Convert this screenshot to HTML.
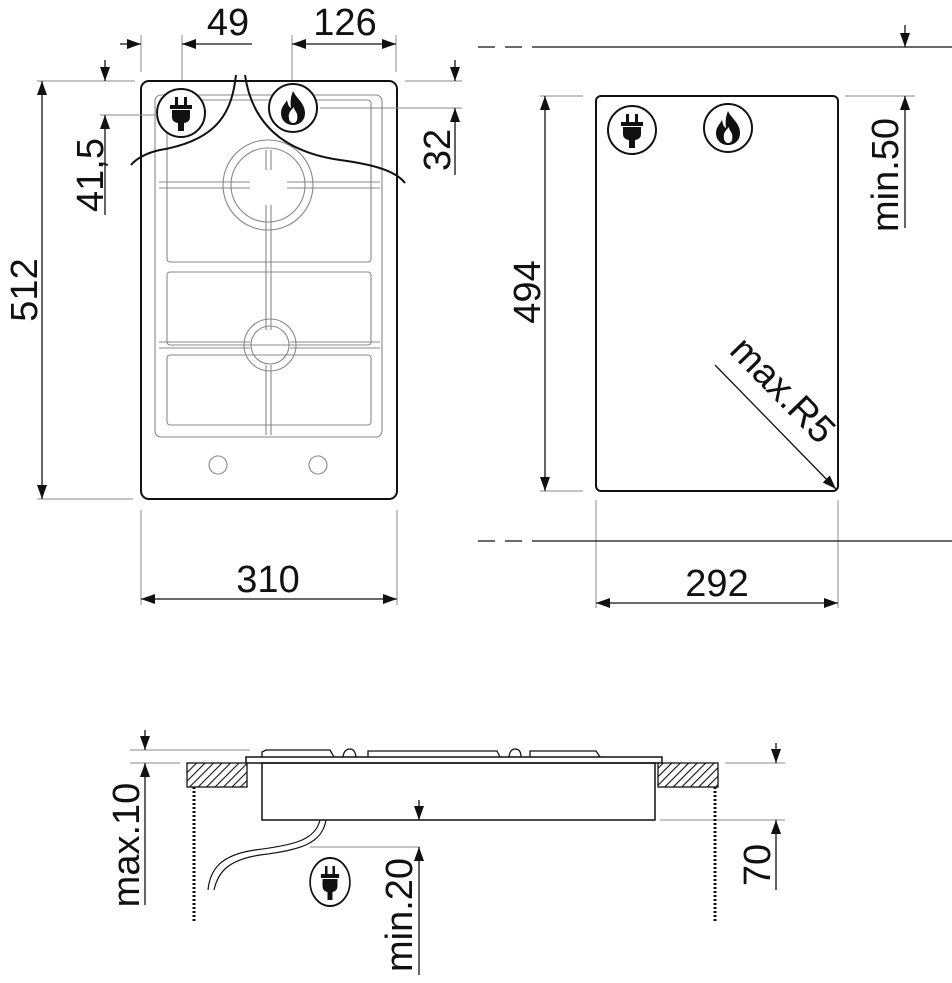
<!DOCTYPE html>
<html><head><style>html,body{margin:0;padding:0;background:#fff}svg{display:block}text{font-family:"Liberation Sans",sans-serif;fill:#111}</style></head>
<body>
<svg width="952" height="983" viewBox="0 0 952 983" xmlns="http://www.w3.org/2000/svg">
<defs>
<marker id="a" viewBox="0 0 14 10" refX="14" refY="5" markerWidth="14" markerHeight="10" orient="auto-start-reverse" markerUnits="userSpaceOnUse"><path d="M0,0L14,5L0,10z" fill="#111"/></marker>
<pattern id="h" width="6" height="6" patternUnits="userSpaceOnUse" patternTransform="rotate(45)"><rect width="6" height="6" fill="#fff"/><line x1="0" y1="0" x2="0" y2="6" stroke="#111" stroke-width="2.2"/></pattern>
<g id="plug"><circle r="24" fill="#fff" stroke="#111" stroke-width="2"/><rect x="-6" y="-16" width="3" height="9" fill="#111"/><rect x="3" y="-16" width="3" height="9" fill="#111"/><rect x="-11" y="-8" width="22" height="4" fill="#111"/><path d="M-9,-3H9V4Q9,9 3,10V18H-3V10Q-9,9 -9,4Z" fill="#111"/></g>
<g id="flame"><circle r="24" fill="#fff" stroke="#111" stroke-width="2"/><path d="M0,-17C3,-10 12,-5 12,5C12,13 6,17 0,17C-7,17 -12,12 -12,5C-12,-1 -8,-4 -6,-8C-5,-3 -4,-1 -2,0C-3,-7 -2,-12 0,-17ZM0,15C4,15 5,11 4,6C3,3 1,2 1,-1C-3,3 -5,6 -4,10C-4,13 -2,15 0,15Z" fill="#111" fill-rule="evenodd"/></g>
</defs>
<g fill="none" stroke="#111" stroke-width="1.2">
<rect x="141" y="81" width="256" height="418" rx="8" stroke-width="2"/>
<g stroke="#888" stroke-width="1.1">
<rect x="155" y="95" width="227" height="342" rx="6"/>
<rect x="167" y="100" width="204" height="162" rx="3"/>
<rect x="167" y="272" width="204" height="73" rx="3"/>
<rect x="167" y="355" width="204" height="70" rx="3"/>
<circle cx="268" cy="185" r="45"/><circle cx="268" cy="185" r="37"/>
<circle cx="270" cy="345" r="26"/><circle cx="270" cy="345" r="19"/>
<path d="M159,182H250M159,188H250M287,182H380M287,188H380M159,342H250M159,348H250M290,342H380M290,348H380"/>
<path d="M266,150V170M271,150V170M266,205V330M271,205V330M266,365V435M271,365V435"/>
<circle cx="218" cy="465" r="9"/><circle cx="318" cy="465" r="9"/>
</g>
<path d="M236,75C232,110 220,140 160,150C145,153 135,160 131,165" stroke-width="2"/>
<path d="M245,75C250,110 270,150 340,160C370,164 395,170 405,183" stroke-width="2"/>
</g>
<use href="#plug" x="181" y="113"/>
<use href="#flame" x="293" y="108"/>
<g fill="none" stroke="#888" stroke-width="1">
<path d="M141,35V72M182,35V80M292,35V80M396,35V72M100,81H135M100,115H157M405,81H462M320,108H462M37,81H133M37,499H133M141,510V605M397,510V605"/>
<path d="M540,96H583M540,491H583M596,500V608M838,500V608M845,96H915"/>
<path d="M130,750H250M130,763H180M725,763H785M660,820H785M310,847H420"/>
</g>
<g fill="none" stroke="#111" stroke-width="1.3">
<line x1="42" y1="81" x2="42" y2="499" marker-start="url(#a)" marker-end="url(#a)"/>
<line x1="141" y1="599" x2="397" y2="599" marker-start="url(#a)" marker-end="url(#a)"/>
<line x1="120" y1="44" x2="141" y2="44" marker-end="url(#a)"/>
<line x1="252" y1="44" x2="182" y2="44" marker-end="url(#a)"/>
<line x1="292" y1="44" x2="396" y2="44" marker-start="url(#a)" marker-end="url(#a)"/>
<line x1="105" y1="60" x2="105" y2="81" marker-end="url(#a)"/>
<line x1="105" y1="215" x2="105" y2="115" marker-end="url(#a)"/>
<line x1="455" y1="60" x2="455" y2="81" marker-end="url(#a)"/>
<line x1="455" y1="175" x2="455" y2="108" marker-end="url(#a)"/>
<rect x="596" y="96" width="242" height="395" rx="5" stroke-width="2"/>
<line x1="545" y1="96" x2="545" y2="491" marker-start="url(#a)" marker-end="url(#a)"/>
<line x1="596" y1="603" x2="838" y2="603" marker-start="url(#a)" marker-end="url(#a)"/>
<line x1="905" y1="25" x2="905" y2="47" marker-end="url(#a)"/>
<line x1="905" y1="228" x2="905" y2="96" marker-end="url(#a)"/>
<path d="M478,47H495M505,47H522M532,47H952M478,541H495M505,541H522M532,541H952"/>
<line x1="715" y1="365" x2="836" y2="489" marker-end="url(#a)"/>
<rect x="246" y="757" width="416" height="6" stroke-width="1.5"/>
<rect x="262" y="763" width="393" height="57" stroke-width="1.5"/>
<path d="M262,757V752L266,750H330L334,757M343,757Q344,749 350,749Q355,749 356,757M368,757V751H497L500,757M509,757Q510,749 515,749Q521,749 521,757M530,757V751H596L600,757"/>
<path d="M320,820C315,840 295,845 255,850C220,855 210,870 208,890M326,820C322,844 300,850 260,855C228,860 218,872 214,890" stroke-width="1.2"/>
<line x1="145" y1="730" x2="145" y2="750" marker-end="url(#a)"/>
<line x1="145" y1="905" x2="145" y2="763" marker-end="url(#a)"/>
<line x1="419" y1="800" x2="419" y2="820" marker-end="url(#a)"/>
<line x1="419" y1="975" x2="419" y2="847" marker-end="url(#a)"/>
<line x1="776" y1="743" x2="776" y2="763" marker-end="url(#a)"/>
<line x1="776" y1="890" x2="776" y2="820" marker-end="url(#a)"/>
<path d="M194,787V922M715,787V922" stroke-width="3" stroke-dasharray="2 2"/>
</g>
<rect x="187" y="763" width="60" height="24" fill="url(#h)" stroke="#111" stroke-width="1.3"/>
<rect x="658" y="763" width="60" height="24" fill="url(#h)" stroke="#111" stroke-width="1.3"/>
<use href="#plug" x="632" y="130"/>
<use href="#flame" x="728" y="128"/>
<g transform="translate(330,882) scale(0.83,1)"><use href="#plug"/></g>
<g font-size="38">
<text x="228" y="35" text-anchor="middle">49</text>
<text x="345" y="35" text-anchor="middle">126</text>
<text x="268" y="592" text-anchor="middle">310</text>
<text x="717" y="596" text-anchor="middle">292</text>
<text transform="translate(37,290) rotate(-90)" text-anchor="middle">512</text>
<text transform="translate(103,175) rotate(-90)" text-anchor="middle">41,5</text>
<text transform="translate(450,150) rotate(-90)" text-anchor="middle">32</text>
<text transform="translate(540,292) rotate(-90)" text-anchor="middle">494</text>
<text transform="translate(898,175) rotate(-90)" text-anchor="middle">min.50</text>
<text transform="translate(728,352) rotate(45.7)">max.R5</text>
<text transform="translate(139,845) rotate(-90)" text-anchor="middle">max.10</text>
<text transform="translate(412,915) rotate(-90)" text-anchor="middle">min.20</text>
<text transform="translate(770,865) rotate(-90)" text-anchor="middle">70</text>
</g>
</svg>
</body></html>
